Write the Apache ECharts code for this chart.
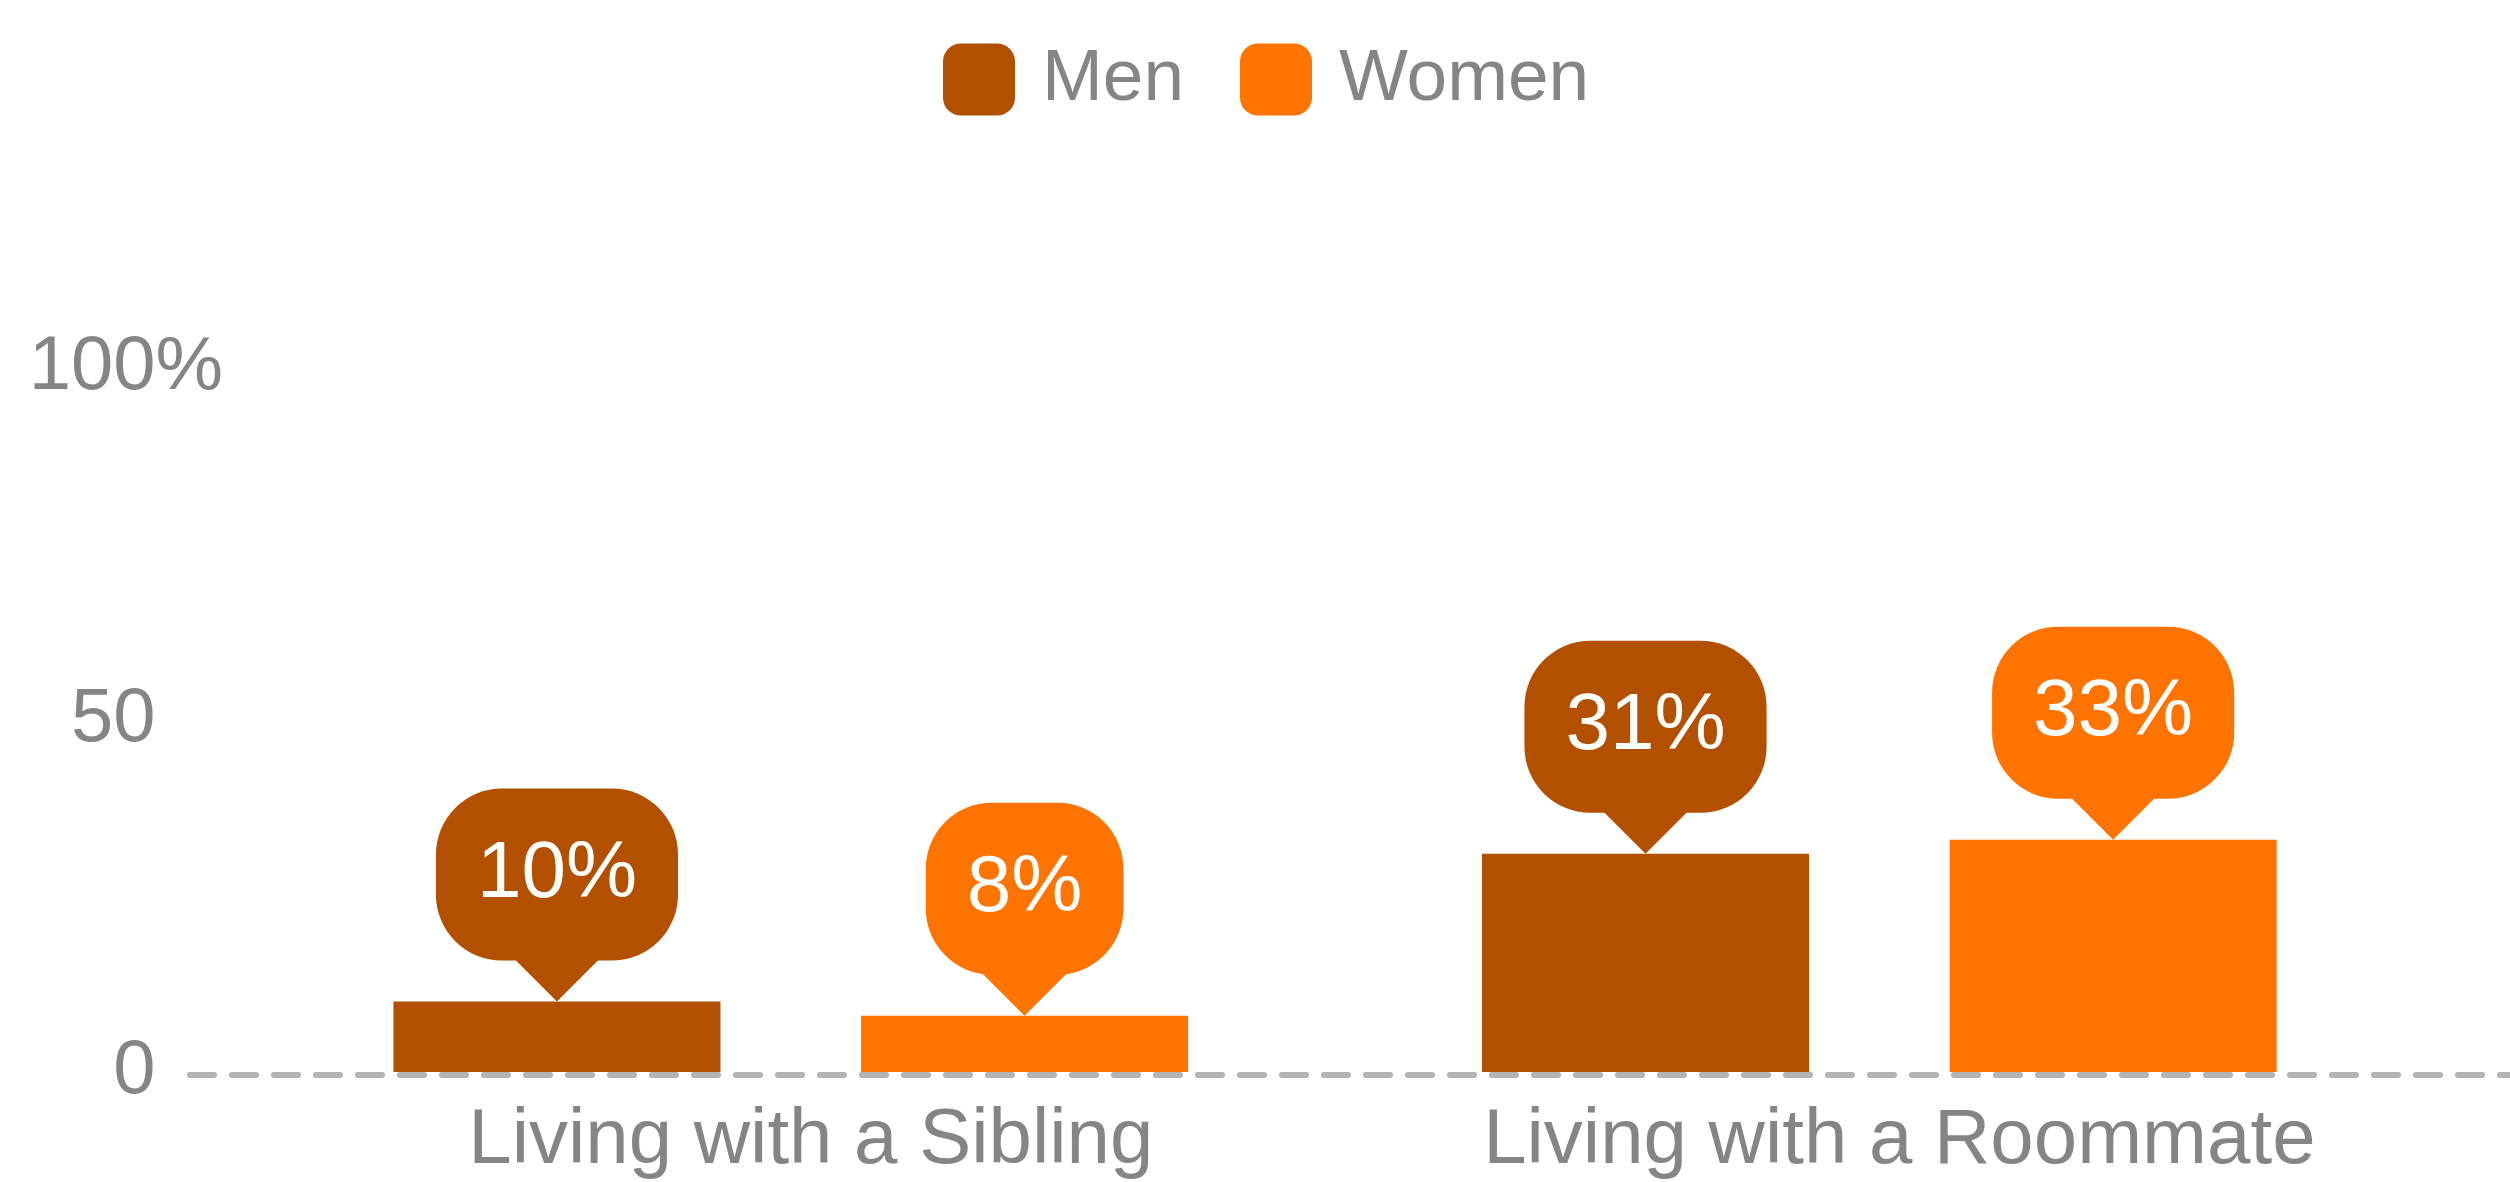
<!DOCTYPE html>
<html>
<head>
<meta charset="utf-8">
<script src="https://cdn.jsdelivr.net/npm/echarts@6/dist/echarts.min.js"></script>
<style>
  html, body { margin: 0; padding: 0; background: #fff; }
  #chart { width: 2510px; height: 1182px; }
</style>
</head>
<body>
<div id="chart"></div>
<script>
// chart data
const categories = ['Living with a Sibling', 'Living with a Roommate'];
const menValues = [10, 31];
const womenValues = [8, 33];
const yTicks = [0, 50, 100];

const MEN_COLOR = '#b35000';
const WOMEN_COLOR = '#ff7300';
const TEXT_GREY = '#858585';
const FONT = '"Liberation Sans", Arial, sans-serif';

function calloutLabel(color) {
    return {
        show: true,
        position: 'top',
        distance: 41,
        formatter: '{c}%',
        color: '#fff',
        fontFamily: FONT,
        fontSize: 80,
        lineHeight: 88,
        backgroundColor: color,
        borderRadius: 66,
        padding: [42, 41]
    };
}

// little triangle under each callout, laid out like the bars
function pointerSeries(name, values, color) {
    return {
        name: name,
        type: 'pictorialBar',
        xAxisIndex: 0,
        yAxisIndex: 0,
        barGap: '43%',
        barCategoryGap: '27%',
        symbol: 'path://M0,0 L2,0 L1,1 Z',
        symbolSize: [84, 42],
        symbolPosition: 'end',
        symbolOffset: [0, '-100%'],
        itemStyle: { color: color },
        z: 3,
        silent: true,
        data: values
    };
}

const chart = echarts.init(document.getElementById('chart'));
const options = {
    animation: false,
    textStyle: { fontFamily: FONT },
    legend: {
        data: ['Men', 'Women'],
        top: 38,
        left: 938,
        icon: 'roundRect',
        itemWidth: 72,
        itemHeight: 72,
        itemGap: 56,
        textStyle: {
            color: TEXT_GREY,
            fontSize: 73,
            fontFamily: FONT,
            padding: [0, 0, 0, 22]
        }
    },
    grid: [
        // bars
        { left: 246.5, right: 86.4, top: 368, bottom: 110 },
        // dashed baseline across the width
        { left: 190, right: 0, top: 371, bottom: 107 }
    ],
    xAxis: [
        {
            type: 'category',
            gridIndex: 0,
            data: categories,
            axisLine: { show: false },
            axisTick: { show: false },
            axisLabel: {
                color: TEXT_GREY,
                fontSize: 78,
                fontFamily: FONT,
                margin: 30,
                padding: [0, 0, 0, 40]
            }
        },
        {
            type: 'category',
            gridIndex: 1,
            data: categories,
            axisLine: {
                show: true,
                lineStyle: { color: '#b3b3b3', width: 6, type: [24, 18] }
            },
            axisTick: { show: false },
            axisLabel: { show: false }
        }
    ],
    yAxis: [
        {
            type: 'value',
            gridIndex: 0,
            min: yTicks[0],
            max: yTicks[yTicks.length - 1],
            interval: 50,
            axisLine: { show: false },
            axisTick: { show: false },
            splitLine: { show: false },
            axisLabel: {
                color: TEXT_GREY,
                fontSize: 76,
                fontFamily: FONT,
                margin: 91
            }
        },
        {
            // only carries the "%" hanging after the top tick
            type: 'value',
            gridIndex: 0,
            position: 'left',
            min: yTicks[0],
            max: yTicks[yTicks.length - 1],
            interval: 50,
            axisLine: { show: false },
            axisTick: { show: false },
            splitLine: { show: false },
            axisLabel: {
                color: TEXT_GREY,
                fontSize: 76,
                fontFamily: FONT,
                margin: 91,
                align: 'left',
                formatter: function (v) {
                    return v === yTicks[yTicks.length - 1] ? '%' : '';
                }
            }
        },
        {
            type: 'value',
            gridIndex: 1,
            min: 0,
            max: 100,
            show: false
        }
    ],
    series: [
        {
            name: 'Men',
            type: 'bar',
            xAxisIndex: 0,
            yAxisIndex: 0,
            barGap: '43%',
            barCategoryGap: '27%',
            itemStyle: { color: MEN_COLOR },
            label: calloutLabel(MEN_COLOR),
            data: menValues
        },
        {
            name: 'Women',
            type: 'bar',
            xAxisIndex: 0,
            yAxisIndex: 0,
            barGap: '43%',
            barCategoryGap: '27%',
            itemStyle: { color: WOMEN_COLOR },
            label: calloutLabel(WOMEN_COLOR),
            data: womenValues
        },
        pointerSeries('Men', menValues, MEN_COLOR),
        pointerSeries('Women', womenValues, WOMEN_COLOR)
    ]
};

chart.setOption(options);
</script>
</body>
</html>
